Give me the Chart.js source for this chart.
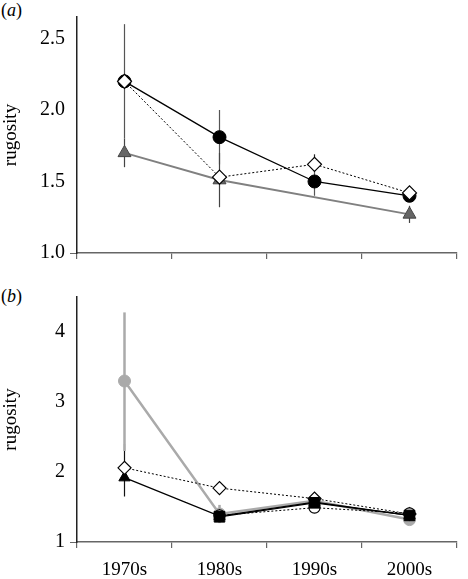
<!DOCTYPE html>
<html>
<head>
<meta charset="utf-8">
<script src="https://cdn.jsdelivr.net/npm/chart.js@4.4.0/dist/chart.umd.min.js"></script>
<style>
  body { margin: 0; background: #fff; }
  .panel { position: absolute; left: 0; }
  .tag { position: absolute; left: 1px; font: 18px "Liberation Serif", serif; color: #000; }
</style>
</head>
<body>
<div class="tag" style="top:0px;">(<i>a</i>)</div>
<div class="tag" style="top:286px;">(<i>b</i>)</div>
<canvas id="chartA" class="panel" style="top:0px;" width="468" height="270"></canvas>
<canvas id="chartB" class="panel" style="top:280px;" width="468" height="299"></canvas>
<script>
const decades = ['1970s', '1980s', '1990s', '2000s'];

// panel (a)
const aTicks = [1.0, 1.5, 2.0, 2.5];
const aDiamond = [2.20, 1.53, 1.62, 1.42];
const aDiamondLo = [2.20, 1.50, 1.58, 1.39];
const aDiamondHi = [2.20, 1.56, 1.69, 1.45];
const aCircle = [2.20, 1.81, 1.50, 1.40];
const aCircleLo = [1.80, 1.62, 1.40, 1.37];
const aCircleHi = [2.60, 2.00, 1.60, 1.43];
const aTriangle = [1.70, 1.51, null, 1.27];
const aTriangleLo = [1.60, 1.32, null, 1.21];
const aTriangleHi = [1.80, 1.70, null, 1.33];

// panel (b)
const bTicks = [1, 2, 3, 4];
const bSquare = [null, 1.36, 1.56, 1.38];
const bOpen = [null, 1.38, 1.49, 1.41];
const bDiamond = [2.06, 1.77, 1.62, 1.40];
const bDiamondLo = [2.00, 1.69, 1.58, 1.37];
const bDiamondHi = [2.12, 1.85, 1.67, 1.44];
const bTriangle = [1.92, 1.37, 1.57, 1.38];
const bTriangleLo = [1.65, 1.33, 1.53, 1.35];
const bTriangleHi = [2.40, 1.41, 1.61, 1.41];
const bGray = [3.30, 1.40, 1.59, 1.32];
const bGrayLo = [2.30, 1.27, 1.54, 1.28];
const bGrayHi = [4.28, 1.53, 1.64, 1.36];

const serif = '"Liberation Serif", "DejaVu Serif", serif';
Chart.defaults.font.family = serif;
Chart.defaults.color = '#000';

// vertical error bars, drawn under the markers
const errorBars = {
    id: 'errorBars',
    beforeDatasetsDraw(chart) {
        const ctx = chart.ctx;
        const xs = chart.scales.x;
        const ys = chart.scales.y;
        chart.data.datasets.forEach(ds => {
            if (!ds.errLo) return;
            ctx.save();
            ctx.strokeStyle = ds.errColor;
            ctx.lineWidth = ds.errWidth || 1.2;
            ds.errLo.forEach((lo, i) => {
                const hi = ds.errHi[i];
                if (lo == null || hi == null) return;
                const px = xs.getPixelForValue(i);
                ctx.beginPath();
                ctx.moveTo(px, ys.getPixelForValue(lo));
                ctx.lineTo(px, ys.getPixelForValue(hi));
                ctx.stroke();
            });
            ctx.restore();
        });
    }
};

function makeOptions(yMin, yMax, yTicks, decimals, showX, padTop, xHeight) {
    return {
        responsive: false,
        animation: false,
        spanGaps: true,
        layout: { padding: { left: 0, right: 11, top: padTop, bottom: 0 } },
        plugins: { legend: { display: false }, tooltip: { enabled: false } },
        scales: {
            x: {
                type: 'category',
                offset: true,
                grid: { offset: true, drawOnChartArea: false, drawTicks: true, tickLength: 6, color: '#666', lineWidth: 1.2 },
                border: { color: '#666', width: 1.5 },
                ticks: { display: showX, color: '#000', font: { family: serif, size: 19 }, padding: 11, maxRotation: 0 },
                afterFit: s => { s.height = xHeight; }
            },
            y: {
                min: yMin,
                max: yMax,
                afterBuildTicks: s => { s.ticks = yTicks.map(v => ({ value: v })); },
                grid: {
                    drawOnChartArea: false,
                    tickLength: 7,
                    tickColor: c => (c.tick && c.tick.value === yMin) ? '#666' : 'rgba(0,0,0,0)'
                },
                border: { color: '#222', width: 1.5 },
                ticks: {
                    color: '#000',
                    padding: 5,
                    font: { family: serif, size: 20 },
                    callback: v => v.toFixed(decimals)
                },
                title: { display: true, text: 'rugosity', color: '#000', font: { family: serif, size: 19 }, padding: 0 },
                afterFit: s => { s.width = 77; }
            }
        }
    };
}

new Chart(document.getElementById('chartA'), {
    type: 'line',
    data: {
        labels: decades,
        datasets: [
            {
                data: aDiamond, borderColor: '#000', borderWidth: 1, borderDash: [2, 2],
                pointStyle: 'rectRot', pointRadius: 7, pointBackgroundColor: '#fff', pointBorderColor: '#000', pointBorderWidth: 1.2,
                errLo: aDiamondLo, errHi: aDiamondHi, errColor: '#222', clip: false
            },
            {
                data: aCircle, borderColor: '#000', borderWidth: 1.3,
                pointStyle: 'circle', pointRadius: 6.5, pointBackgroundColor: '#000', pointBorderColor: '#000', pointBorderWidth: 1,
                errLo: aCircleLo, errHi: aCircleHi, errColor: '#555', clip: false
            },
            {
                data: aTriangle, borderColor: '#808080', borderWidth: 2,
                pointStyle: 'triangle', pointRadius: 7.5, pointBackgroundColor: '#666', pointBorderColor: '#444', pointBorderWidth: 1,
                errLo: aTriangleLo, errHi: aTriangleHi, errColor: '#444', clip: false
            }
        ]
    },
    options: makeOptions(1, 2.65, aTicks, 1, false, 0, 16),
    plugins: [errorBars]
});

new Chart(document.getElementById('chartB'), {
    type: 'line',
    data: {
        labels: decades,
        datasets: [
            {
                data: bSquare, borderColor: '#000', borderWidth: 1.3,
                pointStyle: 'rect', pointRadius: 7.5, pointBackgroundColor: '#000', pointBorderColor: '#000', pointBorderWidth: 1,
                clip: false
            },
            {
                data: bOpen, borderColor: '#000', borderWidth: 1, borderDash: [2, 2],
                pointStyle: 'circle', pointRadius: 5.5, pointBackgroundColor: '#fff', pointBorderColor: '#000', pointBorderWidth: 1.2,
                clip: false
            },
            {
                data: bDiamond, borderColor: '#000', borderWidth: 1, borderDash: [2, 2],
                pointStyle: 'rectRot', pointRadius: 6.5, pointBackgroundColor: '#fff', pointBorderColor: '#000', pointBorderWidth: 1.2,
                errLo: bDiamondLo, errHi: bDiamondHi, errColor: '#222', clip: false
            },
            {
                data: bTriangle, borderColor: '#000', borderWidth: 1.3,
                pointStyle: 'triangle', pointRadius: 6.5, pointBackgroundColor: '#000', pointBorderColor: '#000', pointBorderWidth: 1,
                errLo: bTriangleLo, errHi: bTriangleHi, errColor: '#111', clip: false
            },
            {
                data: bGray, borderColor: '#aaa', borderWidth: 2.5,
                pointStyle: 'circle', pointRadius: 6, pointBackgroundColor: '#aaa', pointBorderColor: '#aaa', pointBorderWidth: 1,
                errLo: bGrayLo, errHi: bGrayHi, errColor: '#aaa', errWidth: 2.5, clip: false
            }
        ]
    },
    options: makeOptions(1, 4.5, bTicks, 0, true, 10, 37),
    plugins: [errorBars]
});
</script>
</body>
</html>
